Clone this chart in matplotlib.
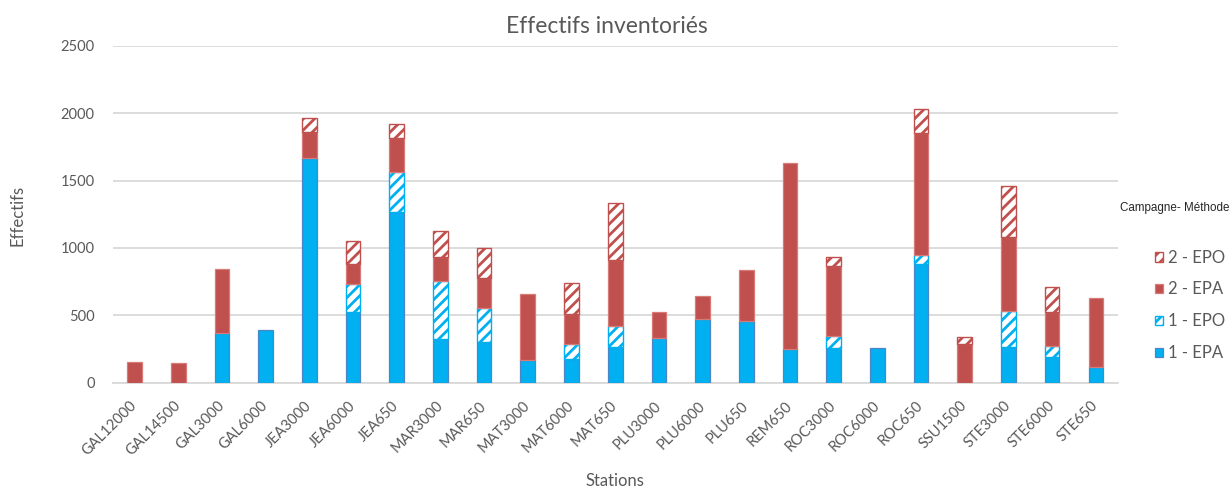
import matplotlib
matplotlib.use("Agg")
import matplotlib.pyplot as plt
from matplotlib.patches import Patch
import numpy as np

stations = ["GAL12000", "GAL14500", "GAL3000", "GAL6000", "JEA3000", "JEA6000",
            "JEA650", "MAR3000", "MAR650", "MAT3000", "MAT6000", "MAT650",
            "PLU3000", "PLU6000", "PLU650", "REM650", "ROC3000", "ROC6000",
            "ROC650", "SSU1500", "STE3000", "STE6000", "STE650"]

epa_1 = [0, 0, 365, 390, 1665, 522, 1264, 322, 300, 168, 176, 267,
         334, 473, 460, 252, 260, 255, 880, 0, 267, 193, 119]
epo_1 = [0, 0, 0, 0, 0, 213, 301, 432, 257, 0, 114, 156,
         0, 0, 0, 0, 84, 0, 67, 0, 265, 82, 0]
epa_2 = [155, 145, 478, 0, 192, 143, 248, 181, 222, 492, 217, 487,
         190, 170, 378, 1375, 522, 0, 903, 287, 551, 247, 512]
epo_2 = [0, 0, 0, 0, 104, 175, 106, 188, 222, 0, 230, 421,
         0, 0, 0, 0, 64, 0, 178, 54, 379, 190, 0]

series_labels = ["1 - EPA", "1 - EPO", "2 - EPA", "2 - EPO"]
yticks = [0, 500, 1000, 1500, 2000, 2500]

BLUE = "#00B0F0"
BLUE_EDGE = "#4A86C8"
RED = "#C0504D"
RED_EDGE = "#D77A78"
GREY = "#595959"
GRID = "#D9D9D9"

plt.rcParams["font.family"] = ["Lato", "DejaVu Sans"]
plt.rcParams["hatch.linewidth"] = 2.0

fig = plt.figure(figsize=(12.31, 4.88), dpi=100)
ax = fig.add_axes([112.7 / 1231, 1 - 382.7 / 488, 1005 / 1231, 337 / 488])

x = np.arange(len(stations))
w = 0.335
bottom = np.zeros(len(stations))

styles = [
    dict(color=BLUE, edgecolor=BLUE_EDGE, linewidth=0.9),
    dict(color="white", edgecolor=BLUE, linewidth=1.0, hatch="///"),
    dict(color=RED, edgecolor=RED_EDGE, linewidth=0.9),
    dict(color="white", edgecolor=RED, linewidth=1.0, hatch="///"),
]
for vals, st in zip([epa_1, epo_1, epa_2, epo_2], styles):
    v = np.array(vals, dtype=float)
    m = v > 0
    ax.bar(x[m], v[m], w, bottom=bottom[m], zorder=3, **st)
    bottom += v

ax.set_xlim(-0.5, len(stations) - 0.5)
ax.set_ylim(0, 2500)
ax.set_yticks(yticks)
ax.set_yticklabels([str(t) for t in yticks])
ax.set_xticks(x)
ax.set_xticklabels(stations, rotation=45, ha="right", va="center",
                   rotation_mode="anchor")
ax.tick_params(axis="y", length=0, pad=13, labelsize=10.5, labelcolor=GREY)
ax.tick_params(axis="x", length=0, pad=15, labelsize=10.5, labelcolor=GREY)
ax.grid(axis="y", color=GRID, linewidth=1.3, zorder=0)
for side in ["top", "right", "left"]:
    ax.spines[side].set_visible(False)
ax.spines["bottom"].set_color(GRID)
ax.spines["bottom"].set_linewidth(1.3)

fig.text(606.5 / 1231, 1 - 33.3 / 488, "Effectifs inventoriés", ha="center",
         va="baseline", fontsize=16.5, color=GREY)
fig.text(17 / 1231, 1 - 215 / 488, "Effectifs", rotation=90, ha="center",
         va="center", fontsize=12, color=GREY)
fig.text(614.5 / 1231, 1 - 481 / 488, "Stations", ha="center", va="center",
         fontsize=12, color=GREY)

# legend, top entry first
handles = [
    Patch(facecolor="white", edgecolor=RED, hatch="///", linewidth=1.0),
    Patch(facecolor=RED, edgecolor=RED_EDGE, linewidth=0.9),
    Patch(facecolor="white", edgecolor=BLUE, hatch="///", linewidth=1.0),
    Patch(facecolor=BLUE, edgecolor=BLUE_EDGE, linewidth=0.9),
]
fig.legend(handles, series_labels[::-1], loc="upper left",
           bbox_to_anchor=(1148 / 1231, 1 - 243 / 488), frameon=False,
           fontsize=12, labelcolor=GREY, handlelength=0.5, handleheight=0.5,
           handletextpad=0.3, labelspacing=0.95, borderaxespad=0)
fig.text(1229 / 1231, 1 - 208 / 488, "Campagne- Méthode", ha="right",
         va="center", fontsize=8.4, color="#262626", fontstretch="condensed",
         family=["Liberation Sans Narrow", "Liberation Sans", "DejaVu Sans"])

fig.savefig("out.png", dpi=100)
